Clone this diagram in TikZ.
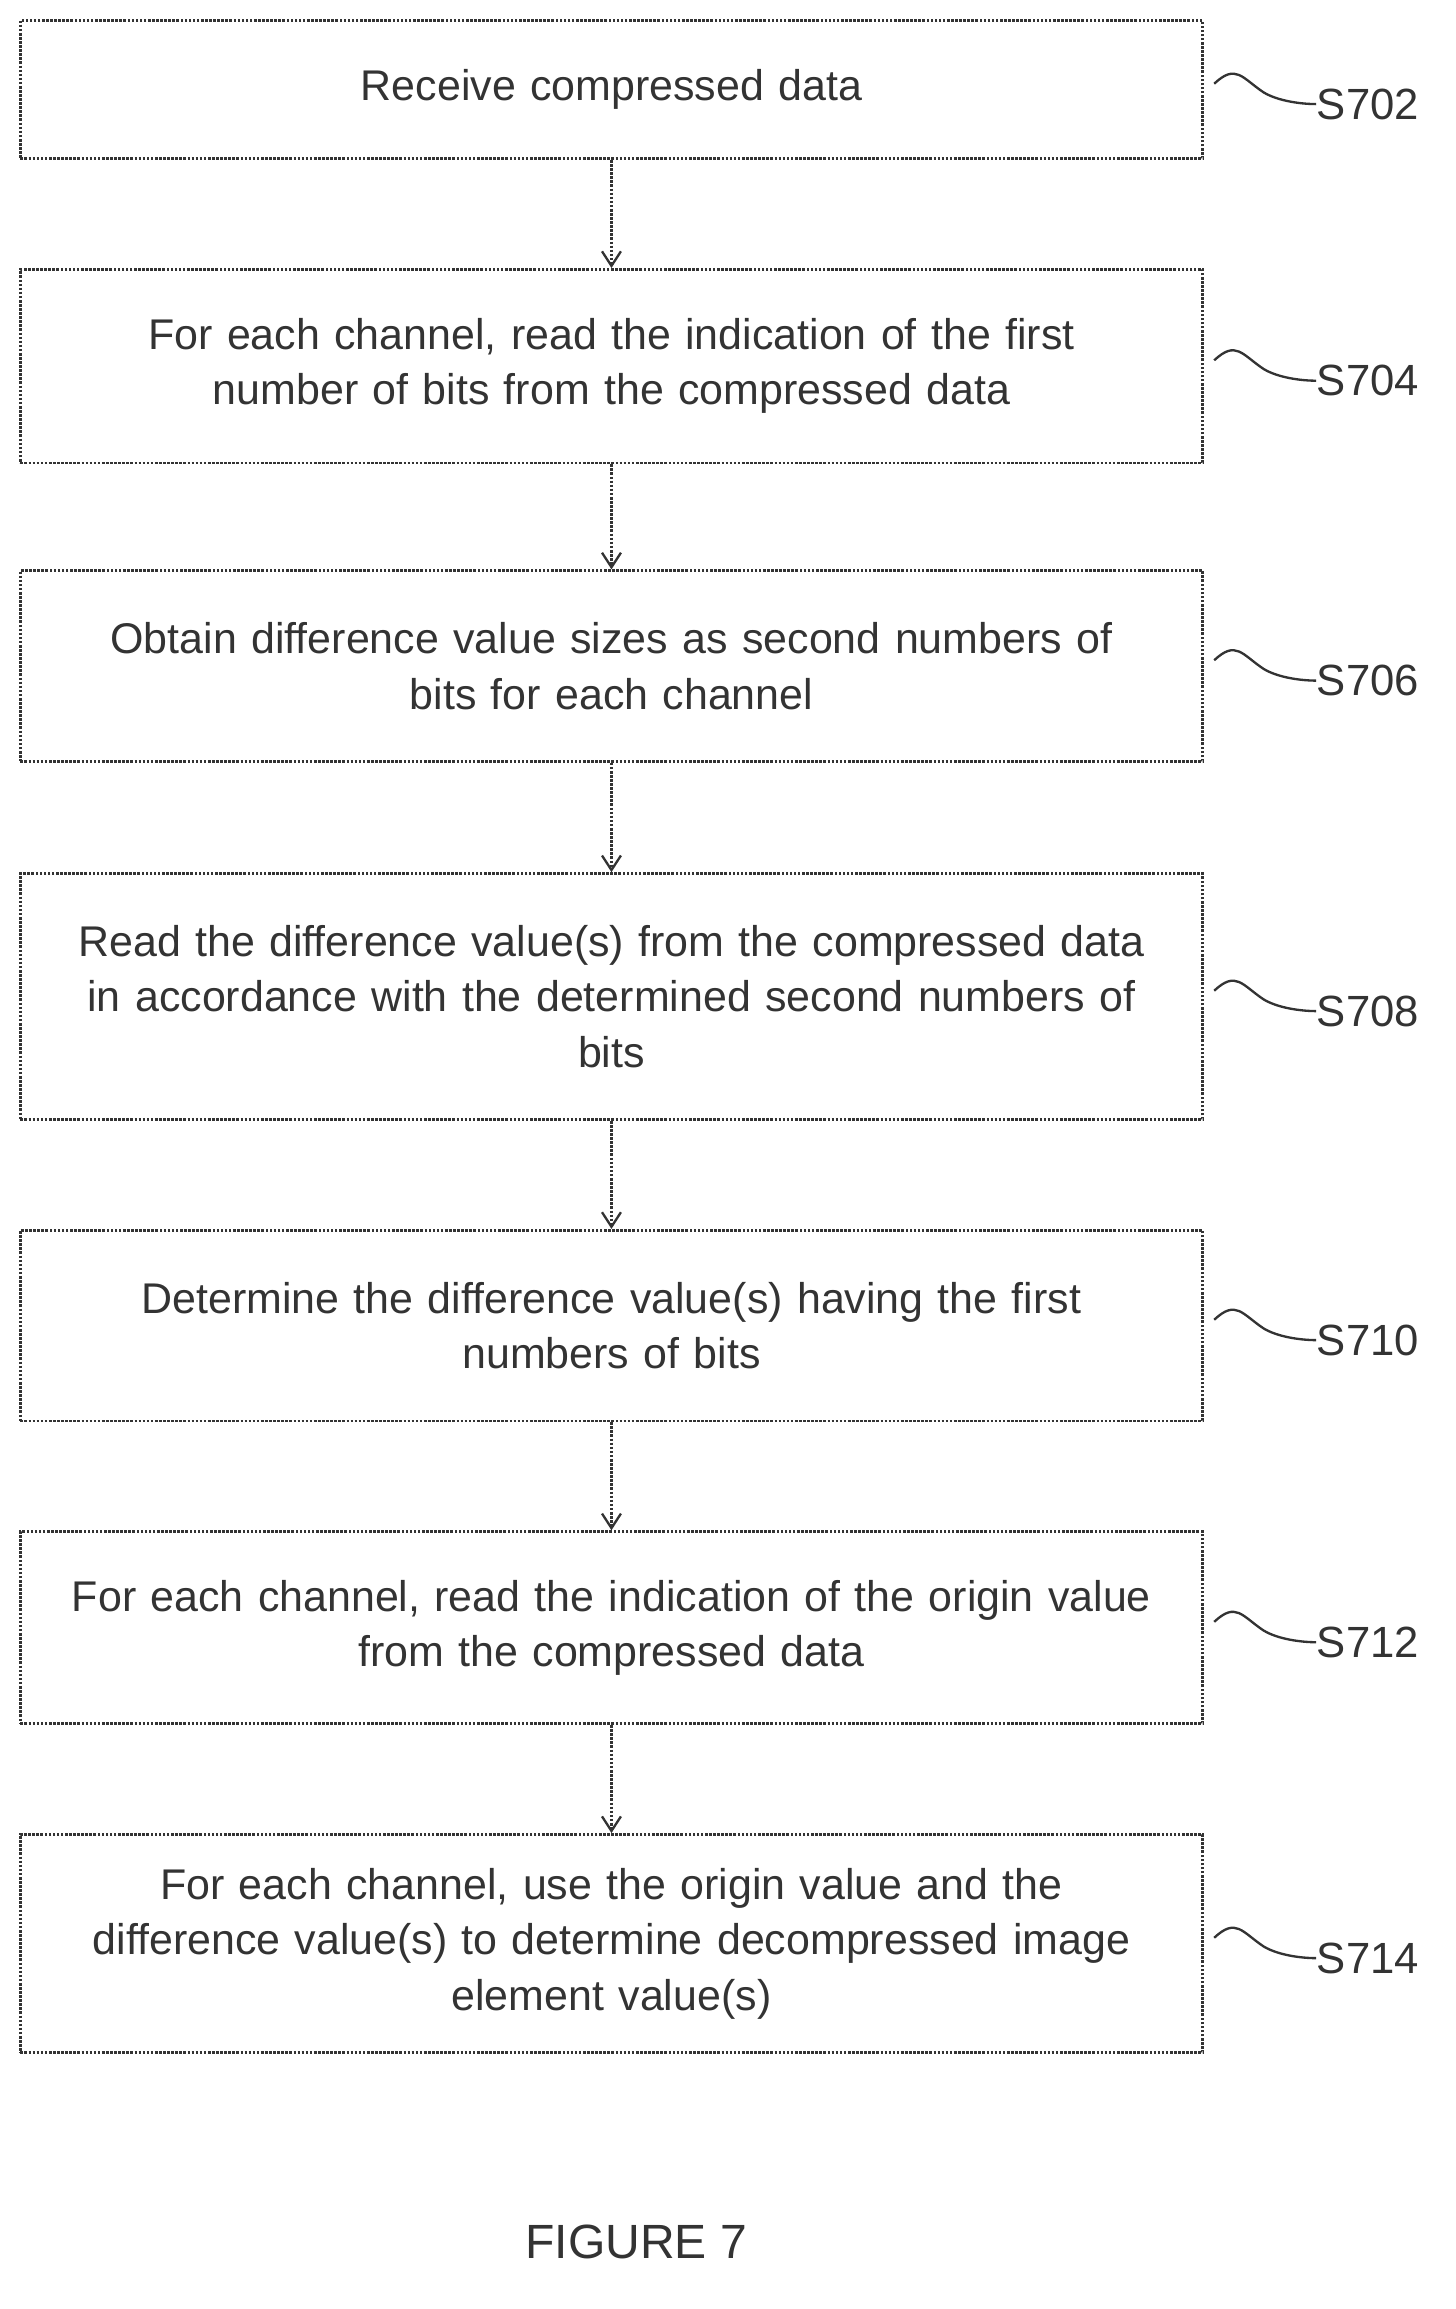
\documentclass[tikz,border=0pt]{standalone}
\usepackage{fontspec}
\setmainfont{Liberation Sans}
\usetikzlibrary{arrows.meta}
\begin{document}
\begin{tikzpicture}[x=1pt,y=-1pt,
 box/.style={draw=black!80,line width=1.8pt,densely dotted,rectangle,minimum width=812pt,align=center,text width=800pt,font=\fontsize{29.5}{38}\selectfont,text=black!80},
 arr/.style={draw=black!80,line width=1.8pt,densely dotted,-{Straight Barb[length=10pt,width=13pt,line width=1.6pt]}},
 lab/.style={font=\fontsize{30}{34}\selectfont,text=black!80,anchor=west},
 sq/.style={draw=black!80,line width=1.6pt}]
\useasboundingbox (0,0) rectangle (1000,1586);
\foreach \n/\t/\b/\txt/\s in {
 a/14/109/{Receive compressed data}/S702,
 b/185/318/{For each channel, read the indication of the first\\number of bits from the compressed data}/S704,
 c/392/523/{Obtain difference value sizes as second numbers of\\bits for each channel}/S706,
 d/600/769/{Read the difference value(s) from the compressed data\\in accordance with the determined second numbers of\\bits}/S708,
 e/845/976/{Determine the difference value(s) having the first\\numbers of bits}/S710,
 f/1052/1184/{For each channel, read the indication of the origin value\\from the compressed data}/S712,
 g/1260/1410/{For each channel, use the origin value and the\\difference value(s) to determine decompressed image\\element value(s)}/S714}{
 \node[box,minimum height={\b-\t}] (\n) at (420,{(\t+\b)/2}) {\txt};
 \coordinate (\n s) at (834,{(\t+\b)/2-4});
 \draw[sq] (\n s) .. controls ++(15,-14) and ++(-15,-10) .. ++(34,6) .. controls ++(10,6) and ++(-10,0) .. ++(36,8) coordinate (\n e);
 \node[lab] at ([xshift=-3pt]\n e) {\s};
}
\foreach \p/\q in {a/b,b/c,c/d,d/e,e/f,f/g}{\draw[arr] (\p.south) -- (\q.north);}
\node[font=\fontsize{33}{38}\selectfont,text=black!80] (fig) at (437,1540) {FIGURE 7};
\end{tikzpicture}
\end{document}
